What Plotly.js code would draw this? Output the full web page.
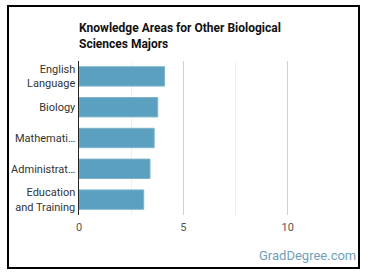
<!DOCTYPE html>
<html><head><meta charset="utf-8">
<script src="https://cdn.plot.ly/plotly-3.0.1.min.js"></script>
<style>
html,body{margin:0;padding:0;background:#fff;}
#wrap{position:relative;width:370px;height:278px;}
#chart{position:absolute;left:0;top:0;width:370px;height:278px;}
#frame{position:absolute;left:7px;top:5px;width:349px;height:260px;border:2px solid #000;pointer-events:none;}
</style>
</head><body>
<div id="wrap"><div id="chart"></div><div id="frame"></div></div>
<script>
const categories = ['English<br>Language', 'Biology', 'Mathemati…', 'Administrat…', 'Education<br>and Training'];
const values = [4.1, 3.77, 3.6, 3.4, 3.1];
const xTickVals = [0, 5, 10];
const xTickText = ['0', '5', '10'];

const trace = {
  type: 'bar', orientation: 'h',
  x: values, y: categories,
  marker: {color: '#5ba1bf', line: {color: '#7db4cb', width: 1}},
  hoverinfo: 'none'
};
const layout = {
  width: 370, height: 278,
  margin: {l: 79, r: 30, t: 61, b: 63},
  paper_bgcolor: '#fff', plot_bgcolor: '#fff',
  font: {family: 'Roboto, sans-serif', color: '#333', size: 11},
  bargap: 0.37,
  showlegend: false,
  title: {text: 'Knowledge Areas for Other Biological<br>Sciences Majors',
    font: {family: 'Roboto, sans-serif', size: 12, color: '#111', weight: 'bold'},
    x: 79/370, xanchor: 'left', xref: 'container', y: 1 - 32/278, yanchor: 'top', yref: 'container'},
  xaxis: {range: [0, 12.5], tickvals: xTickVals, ticktext: xTickText, showgrid: true,
    gridcolor: '#d0d0d0', gridwidth: 1, zeroline: false, showline: false, ticks: '',
    tickfont: {size: 11, color: '#555'}, ticklabelstandoff: 4,
    minor: {dtick: 2.5, tick0: 0, showgrid: true, gridcolor: '#efefef', gridwidth: 1}, fixedrange: true},
  yaxis: {autorange: 'reversed', showline: true, linecolor: '#222', linewidth: 1.5, ticks: '',
    showgrid: false, tickfont: {size: 11, color: '#333'}, ticklabelstandoff: 0, fixedrange: true},
  annotations: [{text: 'GradDegree.com', showarrow: false,
    xref: 'paper', yref: 'paper', x: (358 - 79) / 261, y: (215 - 255) / 154, xanchor: 'right', yanchor: 'middle',
    font: {size: 13, color: '#6f9fba', family: 'Roboto, sans-serif'}}]
};
Plotly.newPlot('chart', [trace], layout, {displayModeBar: false, staticPlot: true});
</script>
</body></html>
